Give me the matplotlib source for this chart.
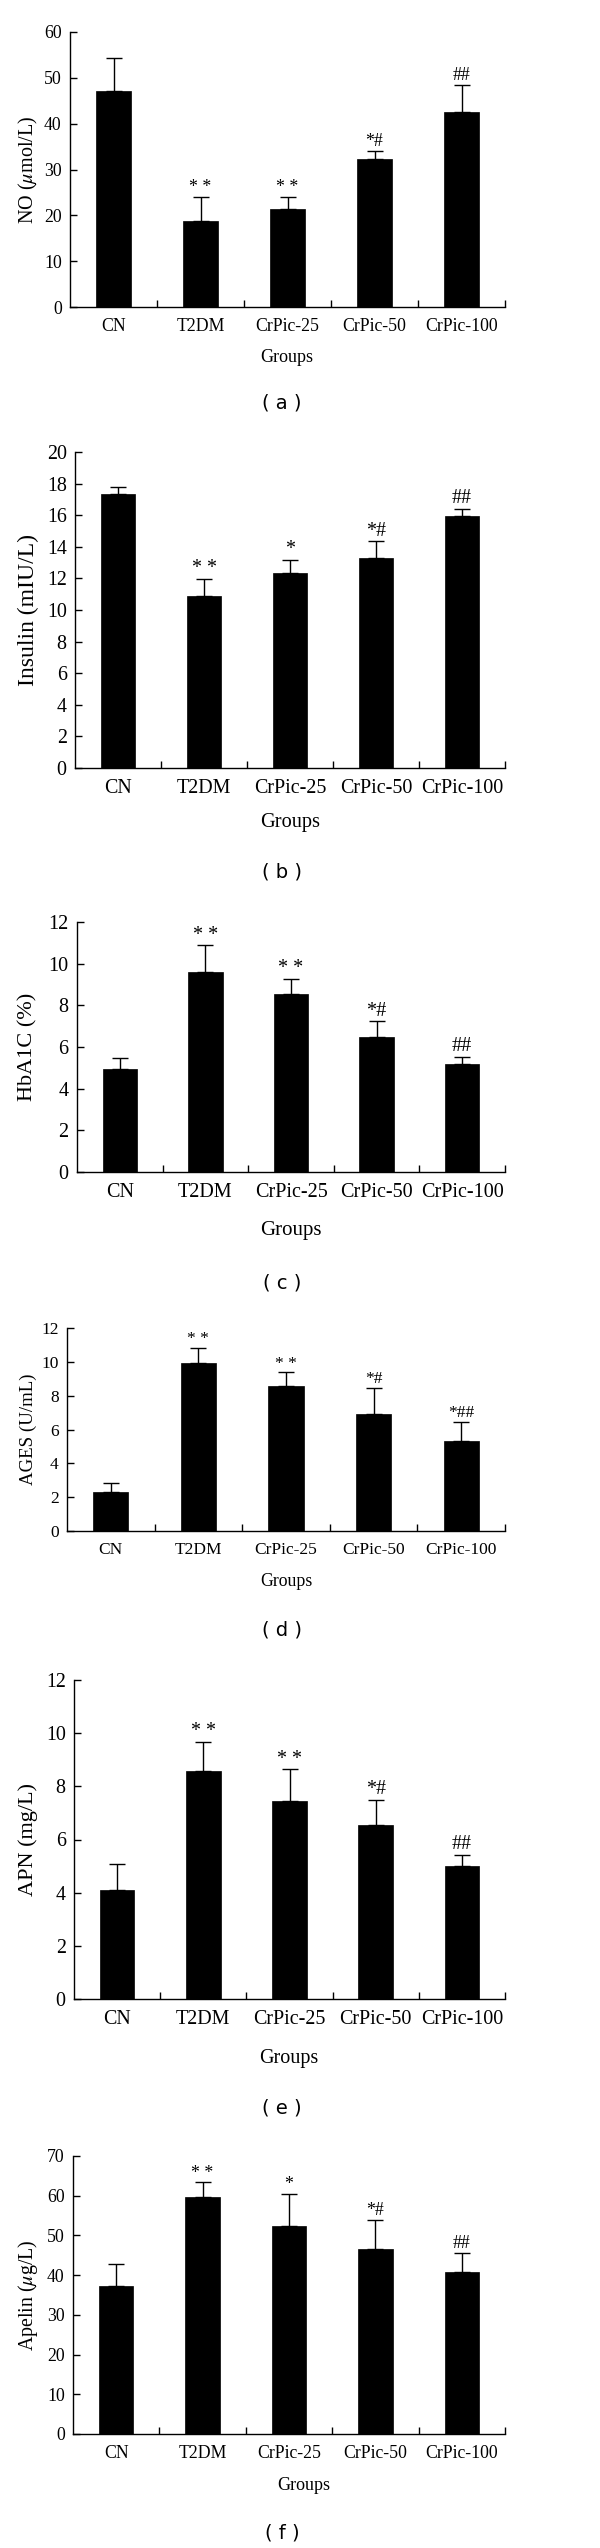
import matplotlib
matplotlib.use('Agg')
import matplotlib.pyplot as plt

plt.rcParams['font.family'] = ['Liberation Serif', 'DejaVu Serif']
plt.rcParams['mathtext.fontset'] = 'stix'

groups = ['CN', 'T2DM', 'CrPic-25', 'CrPic-50', 'CrPic-100']

no_mean = [47.2, 18.7, 21.4, 32.2, 42.6]
no_err = [7.2, 5.3, 2.6, 1.9, 5.8]
no_marks = ['', '**', '**', '*#', '##']

insulin_mean = [17.36, 10.9, 12.37, 13.32, 15.94]
insulin_err = [0.44, 1.09, 0.8, 1.03, 0.46]
insulin_marks = ['', '**', '*', '*#', '##']

hba1c_mean = [4.93, 9.62, 8.54, 6.5, 5.18]
hba1c_err = [0.53, 1.26, 0.72, 0.73, 0.36]
hba1c_marks = ['', '**', '**', '*#', '##']

ages_mean = [2.32, 9.92, 8.57, 6.92, 5.32]
ages_err = [0.51, 0.9, 0.8, 1.53, 1.12]
ages_marks = ['', '**', '**', '*#', '*##']

apn_mean = [4.11, 8.58, 7.45, 6.53, 4.99]
apn_err = [0.95, 1.1, 1.19, 0.96, 0.44]
apn_marks = ['', '**', '**', '*#', '##']

apelin_mean = [37.3, 59.7, 52.4, 46.7, 40.9]
apelin_err = [5.4, 3.7, 8.0, 7.2, 4.7]
apelin_marks = ['', '**', '*', '*#', '##']

W, H = 600, 2548
fig = plt.figure(figsize=(W / 100, H / 100), dpi=100)

# pixel layout: left, top, bottom of axes; y of "Groups", x of "Groups", y of panel letter
# font sizes: ticks, ylabel, "Groups"
panels = [
    (no_mean, no_err, no_marks, r'NO ($\mu$mol/L)', 60, 10, 70, 32, 307, 357, 287, 403, 'a', 12.8, 14.5, 13),
    (insulin_mean, insulin_err, insulin_marks, 'Insulin (mIU/L)', 20, 2, 75, 452, 768, 823, 290, 872, 'b', 14.4, 17, 14.7),
    (hba1c_mean, hba1c_err, hba1c_marks, 'HbA1C (%)', 12, 2, 77, 922, 1172, 1230, 291, 1283, 'c', 14.5, 16, 15),
    (ages_mean, ages_err, ages_marks, 'AGES (U/mL)', 12, 2, 67, 1328, 1531, 1582, 286, 1630, 'd', 12.5, 13.6, 12.8),
    (apn_mean, apn_err, apn_marks, 'APN (mg/L)', 12, 2, 74, 1680, 1999, 2058, 289, 2108, 'e', 14.4, 16, 14.5),
    (apelin_mean, apelin_err, apelin_marks, r'Apelin ($\mu$g/L)', 70, 10, 73, 2156, 2434, 2485, 304, 2533, 'f', 12.8, 14.3, 13),
]

right = 505
for mean, err, marks, ylab, ymax, ystep, left, top, bottom, gy, gx, ly, letter, fs, yfs, gfs in panels:
    ax = fig.add_axes([left / W, 1 - bottom / H, (right - left) / W, (bottom - top) / H])
    xs = [i + 0.5 for i in range(len(groups))]
    ax.bar(xs, mean, width=0.4, color='black', edgecolor='black', linewidth=0.5)
    ax.errorbar(xs, mean, yerr=[[0] * len(mean), err], fmt='none', ecolor='black',
                elinewidth=1.0, capsize=6, capthick=1.0)
    for x, m, e, s in zip(xs, mean, err, marks):
        if s:
            ax.annotate(s.replace('**', '* *'), (x, m + e), xytext=(0, 0.5), textcoords='offset points',
                        ha='center', va='bottom', fontsize=fs)
    ax.set_xlim(0, 5)
    ax.set_ylim(0, ymax)
    ax.set_yticks(range(0, ymax + 1, ystep))
    ax.set_xticks([1, 2, 3, 4, 5])
    ax.set_xticklabels([])
    ax.set_xticks(xs, minor=True)
    ax.set_xticklabels(groups, minor=True)
    ax.tick_params(axis='x', which='minor', length=0, pad=8, labelsize=fs)
    ax.tick_params(axis='x', which='major', direction='in', length=5, width=1)
    ax.tick_params(axis='y', direction='in', length=5, width=1, pad=6, labelsize=fs)
    ax.spines['top'].set_visible(False)
    ax.spines['right'].set_visible(False)
    ax.spines['left'].set_linewidth(1)
    ax.spines['bottom'].set_linewidth(1)
    fig.text(28 / W, 1 - (top + bottom) / 2 / H, ylab, rotation=90, ha='center', va='center', fontsize=yfs)
    fig.text(gx / W, 1 - gy / H, 'Groups', ha='center', va='center', fontsize=gfs)
    fig.text(282 / W, 1 - ly / H, '( %s )' % letter, ha='center', va='center', fontsize=14,
             family='DejaVu Sans')

fig.savefig('out.png', dpi=100)
